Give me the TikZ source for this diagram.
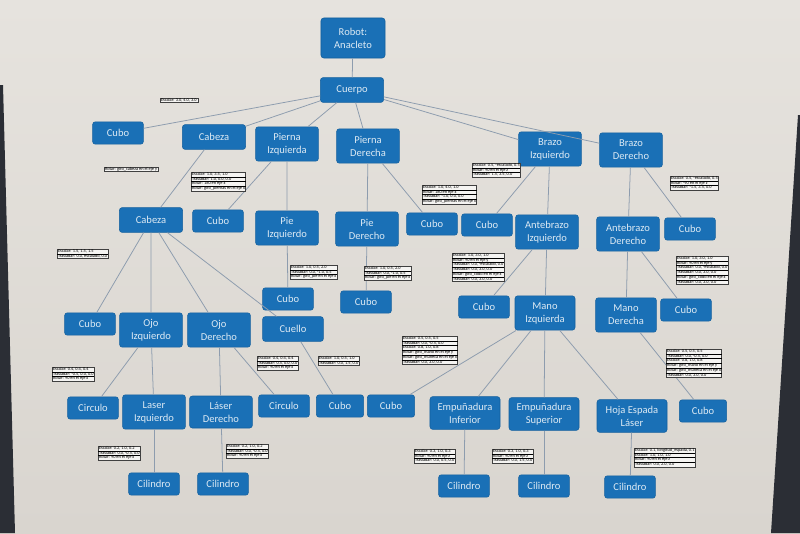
\documentclass[tikz,border=0pt]{standalone}
\usepackage{fontspec}
\setmainfont{Carlito}
\definecolor{fondo}{HTML}{E6E3DE}
\definecolor{fondob}{HTML}{D9D5CF}
\definecolor{azul}{HTML}{1A70B6}
\definecolor{borde}{HTML}{14609E}
\definecolor{linea}{HTML}{8D9CAE}
\definecolor{marco}{HTML}{2B2E35}
\setlength{\arrayrulewidth}{0.3pt}
\newcommand{\tabla}[1]{\begin{tabular}{@{\,}l@{\,}}#1\end{tabular}}

\begin{document}
\begin{tikzpicture}[x=0.025cm, y=-0.025cm,
	caja/.style={draw=borde, fill=azul, rounded corners=2pt, text=white!85!azul, font=\fontsize{7.5}{9.2}\selectfont, align=center, minimum width=1.27cm, minimum height=0.56cm, inner sep=1pt},
	larga/.style={caja, minimum width=1.58cm, minimum height=0.62cm},
	caja2/.style={caja, minimum width=1.57cm, minimum height=0.86cm},
	ancha/.style={caja, minimum width=1.75cm, minimum height=0.82cm},
	nota/.style={draw=black!75, fill=white!60!fondo, anchor=north west, inner sep=0pt, font=\fontsize{3.1}{3.1}\selectfont},
	rama/.style={draw=linea, line width=0.55pt}]
	\useasboundingbox (0,0) rectangle (800,533);
	\shade[top color=fondo, bottom color=fondob] (0,0) rectangle (800,533);
	\fill[marco] (0,85) -- (3,85) -- (15,533) -- (0,533) -- cycle;
	\fill[marco] (800,115) -- (798,115) -- (771,533) -- (800,533) -- cycle;

	\node[caja, minimum height=1cm, minimum width=1.6cm] (Rob) at (353,38) {Robot:\\Anacleto};
	\node[larga] (Cue) at (352,90) {Cuerpo};

	\node[caja] (Cub1) at (118,133) {Cubo};
	\node[larga] (Cab) at (214,137) {Cabeza};
	\node[caja2] (PnI) at (287,144) {Pierna\\Izquierda};
	\node[caja2] (PnD) at (368,146) {Pierna\\Derecha};
	\node[caja2] (BrI) at (550,149) {Brazo\\Izquierdo};
	\node[caja2] (BrD) at (631,150) {Brazo\\Derecho};

	\node[larga] (Cab2) at (151,220) {Cabeza};
	\node[caja] (Cub2) at (218,221) {Cubo};
	\node[caja2] (PiI) at (287,228) {Pie\\Izquierdo};
	\node[caja2] (PiD) at (367,229) {Pie\\Derecho};
	\node[caja] (Cub3) at (432,224) {Cubo};
	\node[caja] (Cub4) at (487,225) {Cubo};
	\node[caja2] (AnI) at (547,232) {Antebrazo\\Izquierdo};
	\node[caja2] (AnD) at (628,234) {Antebrazo\\Derecho};
	\node[caja] (Cub5) at (690,229) {Cubo};

	\node[caja] (Cub6) at (90,324) {Cubo};
	\node[caja2] (OjI) at (151,330) {Ojo\\Izquierdo};
	\node[caja2] (OjD) at (219,330) {Ojo\\Derecho};
	\node[larga, minimum width=1.52cm] (Cue2) at (293,329) {Cuello};
	\node[caja] (Cub7) at (288,299) {Cubo};
	\node[caja] (Cub8) at (366,302) {Cubo};
	\node[caja] (Cub9) at (484,307) {Cubo};
	\node[caja2, minimum width=1.5cm] (MaI) at (545,313) {Mano\\Izquierda};
	\node[caja2, minimum width=1.52cm] (MaD) at (626,315) {Mano\\Derecha};
	\node[caja] (Cub10) at (686,310) {Cubo};

	\node[caja] (Cir1) at (93,408) {Circulo};
	\node[caja2] (LaI) at (154,412) {Laser\\Izquierdo};
	\node[caja2, minimum height=0.8cm] (LaD) at (221,412) {Láser\\Derecho};
	\node[caja] (Cir2) at (284,406) {Circulo};
	\node[caja, minimum width=1.18cm] (Cub11) at (340,406) {Cubo};
	\node[caja, minimum width=1.18cm] (Cub12) at (391,406) {Cubo};
	\node[ancha] (EmI) at (465,413) {Empuñadura\\Inferior};
	\node[ancha] (EmS) at (544,414) {Empuñadura\\Superior};
	\node[ancha] (Hoj) at (632,416) {Hoja Espada\\Láser};
	\node[caja, minimum width=1.18cm] (Cub13) at (703,411) {Cubo};

	\node[caja] (Cil1) at (154,484) {Cilindro};
	\node[caja] (Cil2) at (223,484) {Cilindro};
	\node[caja] (Cil3) at (464,486) {Cilindro};
	\node[caja] (Cil4) at (544,486) {Cilindro};
	\node[caja] (Cil5) at (630,487) {Cilindro};

	\draw[rama] (Rob) -- (Cue);
	\draw[rama] (Cue) -- (Cub1) (Cue) -- (Cab) (Cue) -- (PnI) (Cue) -- (PnD) (Cue) -- (BrI) (Cue) -- (BrD);
	\draw[rama] (Cab) -- (Cab2);
	\draw[rama] (PnI) -- (Cub2) (PnI) -- (PiI);
	\draw[rama] (PnD) -- (PiD) (PnD) -- (Cub3);
	\draw[rama] (BrI) -- (Cub4) (BrI) -- (AnI);
	\draw[rama] (BrD) -- (AnD) (BrD) -- (Cub5);
	\draw[rama] (Cab2) -- (Cub6) (Cab2) -- (OjI) (Cab2) -- (OjD) (Cab2) -- (Cue2);
	\draw[rama] (PiI) -- (Cub7);
	\draw[rama] (PiD) -- (Cub8);
	\draw[rama] (AnI) -- (Cub9) (AnI) -- (MaI);
	\draw[rama] (AnD) -- (MaD) (AnD) -- (Cub10);
	\draw[rama] (OjI) -- (Cir1) (OjI) -- (LaI);
	\draw[rama] (OjD) -- (LaD) (OjD) -- (Cir2);
	\draw[rama] (Cue2) -- (Cub11);
	\draw[rama] (MaI) -- (Cub12) (MaI) -- (EmI) (MaI) -- (EmS) (MaI) -- (Hoj);
	\draw[rama] (MaD) -- (Cub13);
	\draw[rama] (LaI) -- (Cil1);
	\draw[rama] (LaD) -- (Cil2);
	\draw[rama] (EmI) -- (Cil3);
	\draw[rama] (EmS) -- (Cil4);
	\draw[rama] (Hoj) -- (Cil5);

	\node[nota] (T1) at (160,98) {\tabla{Escalar: 3.0, 4.0, 3.0 \hspace{12pt}}};
	\node[nota] (T2) at (104,167) {\tabla{Rotar: giro\_cabeza en el eje y \hspace{12pt}}};
	\node[nota] (T3) at (191,172) {\tabla{Escalar: 1.0, 3.5, 1.0\\\hline Trasladar: 1.0, 0.0, 0.0\\\hline Rotar: 180 en eje x\\\hline Rotar: giro\_piernas en el eje x}};
	\node[nota] (T4) at (472,163) {\tabla{Escalar: 0.5, -escalado, 0.5\\\hline Rotar: 90 en el eje z\\\hline Trasladar: 1.5, 3.5, 0.0}};
	\node[nota] (T5) at (422,185) {\tabla{Escalar: 1.0, 4.0, 1.0\\\hline Rotar: 180 en eje x\\\hline Trasladar: -1.0, 0.0, 0.0\\\hline Rotar: giro\_piernas en el eje x}};
	\node[nota] (T6) at (670,176) {\tabla{Escalar: 0.5, -escalado, 0.5\\\hline Rotar: -90 en el eje z\\\hline Trasladar: -1.5, 3.5, 0.0}};
	\node[nota] (T7) at (57,249) {\tabla{Escalar: 1.5, 1.5, 1.5\\\hline Trasladar: 0.0, escalado, 0.0}};
	\node[nota] (T8) at (290,265) {\tabla{Escalar: 1.0, 0.5, 2.0\\\hline Trasladar: 0.0, -1.0, 0.5\\\hline Rotar: giro\_pie en el eje x}};
	\node[nota] (T9) at (364,266) {\tabla{Escalar: 1.0, 0.5, 2.0\\\hline Trasladar: 0.0, -1.0, 0.5\\\hline Rotar: giro\_pie en el eje x}};
	\node[nota] (T10) at (452,253) {\tabla{Escalar: 1.0, 3.0, 1.0\\\hline Rotar: 90 en el eje y\\\hline Trasladar: 0.0, -escalado, 0.0\\\hline Trasladar: 0.0, 3.0, 0.0\\\hline Rotar: giro\_codo en el eje x\\\hline Trasladar: 0.0, 3.0, 0.0}};
	\node[nota] (T11) at (676,256) {\tabla{Escalar: 1.0, 3.0, 1.0\\\hline Rotar: 90 en el eje y\\\hline Trasladar: 0.0, -escalado, 0.0\\\hline Trasladar: 0.0, 3.0, 0.0\\\hline Rotar: giro\_codo en el eje x\\\hline Trasladar: 0.0, 3.0, 0.0}};
	\node[nota] (T12) at (52,367) {\tabla{Escalar: 0.4, 0.4, 0.4\\\hline Trasladar: -0.5, 0.0, 0.0\\\hline Rotar: 90 en el eje x}};
	\node[nota] (T13) at (257,356) {\tabla{Escalar: 0.4, 0.4, 0.4\\\hline Trasladar: 0.5, 0.0, 0.0\\\hline Rotar: 90 en el eje x}};
	\node[nota] (T14) at (318,356) {\tabla{Escalar: 1.0, 0.5, 1.0\\\hline Trasladar: 0.0, 1.5, 0.0}};
	\node[nota] (T15) at (402,336) {\tabla{Escalar: 0.5, 0.5, 0.5\\\hline Trasladar: 0.0, -0.5, 0.0\\\hline Escalar: 0.8, 1.0, 0.8\\\hline Rotar: giro\_mano en el eje y\\\hline Rotar: giro\_muneca en el eje x\\\hline Trasladar: 0.0, 3.0, 0.0}};
	\node[nota] (T16) at (666,349) {\tabla{Escalar: 0.5, 0.5, 0.5\\\hline Trasladar: 0.0, -0.5, 0.0\\\hline Escalar: 0.8, 1.0, 0.8\\\hline Rotar: giro\_mano en el eje y\\\hline Rotar: giro\_muneca en el eje x\\\hline Trasladar: 0.0, 3.0, 0.0}};
	\node[nota] (T17) at (98,446) {\tabla{Escalar: 0.2, 1.0, 0.2\\\hline Trasladar: 0.0, -0.5, 0.0\\\hline Rotar: 90 en el eje x}};
	\node[nota] (T18) at (226,444) {\tabla{Escalar: 0.2, 1.0, 0.2\\\hline Trasladar: 0.0, -0.5, 0.0\\\hline Rotar: 90 en el eje x}};
	\node[nota] (T19) at (414,449) {\tabla{Escalar: 0.3, 1.0, 0.3\\\hline Rotar: 90 en el eje z\\\hline Trasladar: 0.0, 0.5, 0.0}};
	\node[nota] (T20) at (492,449) {\tabla{Escalar: 0.3, 1.0, 0.3\\\hline Rotar: 90 en el eje z\\\hline Trasladar: 0.0, 1.5, 0.0}};
	\node[nota] (T21) at (634,448) {\tabla{Escalar: 0.1, longitud\_espada, 0.1\\\hline Escalar: 1.0, 1.0, 1.0\\\hline Rotar: 90 en el eje z\\\hline Trasladar: 0.0, 2.0, 0.0}};
\end{tikzpicture}
\end{document}
